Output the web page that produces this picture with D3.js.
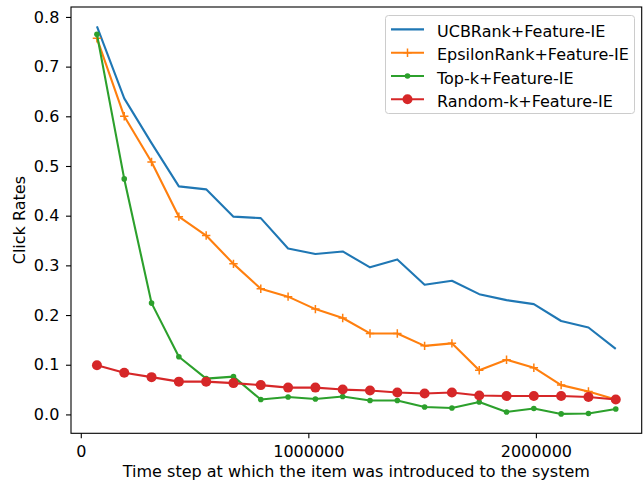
<!DOCTYPE html>
<html>
<head>
<meta charset="utf-8">
<script src="https://cdn.jsdelivr.net/npm/d3@7"></script>
<style>
  body { margin: 0; background: #fff; }
  text { font-family: "DejaVu Sans", sans-serif; fill: #000; }
</style>
</head>
<body>
<svg id="chart" width="644" height="482"></svg>
<script>
// time steps (x) shared by all series
const steps = [71000, 191000, 311000, 431000, 551000, 671000, 791000, 911000, 1031000, 1151000,
               1271000, 1391000, 1511000, 1631000, 1751000, 1871000, 1991000, 2111000, 2231000, 2351000];

const ucbRank = [0.781, 0.636, 0.546, 0.459, 0.453, 0.398, 0.395, 0.334, 0.323, 0.328,
                 0.296, 0.312, 0.261, 0.269, 0.242, 0.230, 0.222, 0.188, 0.175, 0.132];
const epsilonRank = [0.757, 0.600, 0.508, 0.398, 0.360, 0.303, 0.253, 0.237, 0.212, 0.194,
                     0.163, 0.163, 0.138, 0.143, 0.089, 0.110, 0.094, 0.059, 0.046, 0.030];
const topK = [0.765, 0.474, 0.224, 0.116, 0.072, 0.076, 0.030, 0.035, 0.031, 0.036,
              0.028, 0.028, 0.015, 0.013, 0.025, 0.005, 0.012, 0.001, 0.002, 0.011];
const randomK = [0.099, 0.084, 0.075, 0.066, 0.066, 0.063, 0.059, 0.054, 0.054, 0.050,
                 0.048, 0.044, 0.042, 0.044, 0.038, 0.037, 0.037, 0.037, 0.035, 0.030];

const seriesNames = ["UCBRank+Feature-IE", "EpsilonRank+Feature-IE", "Top-k+Feature-IE", "Random-k+Feature-IE"];
const seriesColors = ["#1f77b4", "#ff7f0e", "#2ca02c", "#d62728"];
const seriesMarkers = ["none", "plus", "dot", "circle"];
const seriesValues = [ucbRank, epsilonRank, topK, randomK];

const xTicks = [0, 1000000, 2000000];
const yTicks = [0, 0.1, 0.2, 0.3, 0.4, 0.5, 0.6, 0.7, 0.8];

const svg = d3.select("#chart");
const margin = {left: 71, right: 2.3, top: 7, bottom: 48.7};
const W = 644, H = 482;

// matplotlib-like 5% padding
function padded(ext) {
  const r = ext[1] - ext[0];
  return [ext[0] - 0.05 * r, ext[1] + 0.05 * r];
}
const allY = seriesValues.flat();
const x = d3.scaleLinear().domain(padded(d3.extent(steps))).range([margin.left, W - margin.right]);
const y = d3.scaleLinear().domain(padded(d3.extent(allY))).range([H - margin.bottom, margin.top]);

// axes
const xAxis = svg.append("g")
  .attr("transform", `translate(0,${H - margin.bottom})`)
  .call(d3.axisBottom(x).tickValues(xTicks).tickFormat(d3.format("d")).tickSize(5).tickPadding(7.8));
const yAxis = svg.append("g")
  .attr("transform", `translate(${margin.left},0)`)
  .call(d3.axisLeft(y).tickValues(yTicks).tickFormat(d3.format(".1f")).tickSize(5).tickPadding(6.7));
[xAxis, yAxis].forEach(a => {
  a.select(".domain").remove();
  a.selectAll(".tick line").attr("stroke", "#000").attr("stroke-width", 1.1);
  a.selectAll(".tick text").style("font-size", "16px").attr("fill", "#000");
});

// lines
const line = d3.line().x((d, i) => x(steps[i])).y(d => y(d));
const plot = svg.append("g");
seriesValues.forEach((vals, s) => {
  const g = plot.append("g");
  g.append("path")
    .datum(vals)
    .attr("d", line)
    .attr("fill", "none")
    .attr("stroke", seriesColors[s])
    .attr("stroke-width", 2.1)
    .attr("stroke-linejoin", "round");
  drawMarkers(g, vals.map((v, i) => [x(steps[i]), y(v)]), seriesMarkers[s], seriesColors[s]);
});

function drawMarkers(g, pts, kind, color) {
  if (kind === "plus") {
    g.selectAll("path.m").data(pts).join("path")
      .attr("d", p => `M${p[0] - 4.2},${p[1]}h8.4M${p[0]},${p[1] - 4.2}v8.4`)
      .attr("stroke", color).attr("stroke-width", 1.5);
  } else if (kind === "dot") {
    g.selectAll("circle").data(pts).join("circle")
      .attr("cx", p => p[0]).attr("cy", p => p[1]).attr("r", 2.8).attr("fill", color);
  } else if (kind === "circle") {
    g.selectAll("circle").data(pts).join("circle")
      .attr("cx", p => p[0]).attr("cy", p => p[1]).attr("r", 5).attr("fill", color);
  }
}

// frame
svg.append("rect")
  .attr("x", margin.left).attr("y", margin.top)
  .attr("width", W - margin.left - margin.right)
  .attr("height", H - margin.top - margin.bottom)
  .attr("fill", "none").attr("stroke", "#000").attr("stroke-width", 1.1);

// axis labels
svg.append("text")
  .attr("x", (margin.left + W - margin.right) / 2).attr("y", 477)
  .attr("text-anchor", "middle").style("font-size", "16px")
  .text("Time step at which the item was introduced to the system");
svg.append("text")
  .attr("transform", `translate(25,${(margin.top + H - margin.bottom) / 2}) rotate(-90)`)
  .attr("text-anchor", "middle").style("font-size", "16px")
  .text("Click Rates");

// legend
const leg = svg.append("g");
leg.append("rect")
  .attr("x", 385.5).attr("y", 15.5).attr("width", 249).attr("height", 98)
  .attr("rx", 3).attr("fill", "#fff").attr("fill-opacity", 0.8)
  .attr("stroke", "#cccccc").attr("stroke-width", 1);
seriesNames.forEach((name, s) => {
  const cy = 29.4 + s * 23.3;
  const row = leg.append("g");
  row.append("line").attr("x1", 391).attr("x2", 424).attr("y1", cy).attr("y2", cy)
    .attr("stroke", seriesColors[s]).attr("stroke-width", 2.1);
  drawMarkers(row, [[407.5, cy]], seriesMarkers[s], seriesColors[s]);
  row.append("text").attr("x", 437).attr("y", cy).attr("dy", "0.47em")
    .style("font-size", "16px").text(name);
});
</script>
</body>
</html>
